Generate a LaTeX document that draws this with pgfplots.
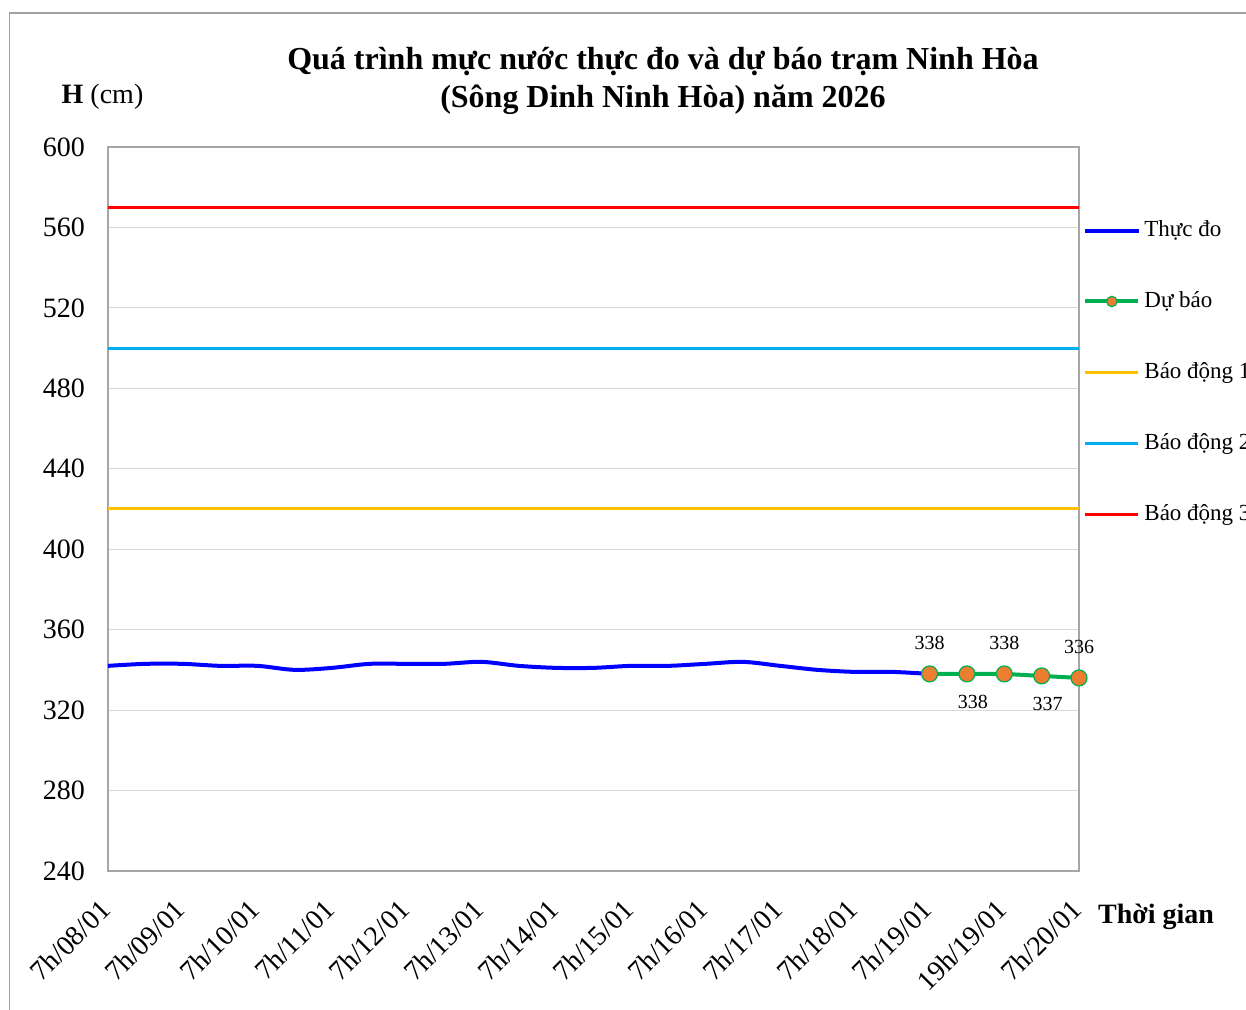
\documentclass[border=0pt]{standalone}
\usepackage{fontspec}
\setmainfont{Liberation Serif}
\usepackage{pgfplots}
\pgfplotsset{compat=1.18}
\definecolor{cBlue}{HTML}{0000FF}
\definecolor{cGreen}{HTML}{00B050}
\definecolor{cOrange}{HTML}{ED7D31}
\definecolor{cYellow}{HTML}{FFC000}
\definecolor{cCyan}{HTML}{00B0F0}
\definecolor{cRed}{HTML}{FF0000}
\definecolor{gridgray}{HTML}{D9D9D9}
\definecolor{axisgray}{HTML}{A6A6A6}
\definecolor{framegray}{HTML}{A0A0A0}
\begin{document}
\begin{tikzpicture}
\path[use as bounding box] (0,0) rectangle (623pt,505pt);
\draw[color=framegray, line width=0.8pt] (4.75pt,0) -- (4.75pt,498.5pt) -- (640pt,498.5pt);
\node[align=center, font=\fontsize{16}{19}\selectfont\bfseries] at (331.5pt,464.5pt)
  {Quá trình mực nước thực đo và dự báo trạm Ninh Hòa\\(Sông Dinh Ninh Hòa) năm 2026};
\node[font=\fontsize{14}{16}\selectfont] at (51.25pt,456.5pt) {\textbf{H} (cm)};
\node[font=\fontsize{14}{16}\selectfont\bfseries] at (578pt,46.5pt) {Thời gian};
\begin{axis}[
  at={(54pt,69.5pt)}, anchor=south west,
  scale only axis, width=485.5pt, height=362pt,
  xmin=0, xmax=13, ymin=240, ymax=600,
  ytick={240,280,...,600},
  xtick={0,...,13},
  xticklabels={7h/08/01,7h/09/01,7h/10/01,7h/11/01,7h/12/01,7h/13/01,7h/14/01,7h/15/01,7h/16/01,7h/17/01,7h/18/01,7h/19/01,19h/19/01,7h/20/01},
  ymajorgrids, major grid style={color=gridgray, line width=0.6pt},
  axis line style={color=axisgray, line width=1pt},
  major tick length=0pt,
  tick label style={font=\fontsize{14}{16}\selectfont},
  /pgf/number format/assume math mode=true,
  yticklabel style={xshift=-8pt},
  xticklabel style={rotate=45, anchor=east, xshift=-9.5pt, yshift=-11.2pt},
  clip=false,
  legend style={at={(1,0.6885)}, anchor=west, xshift=2pt, draw=none, fill=none,
    font=\fontsize{11.5}{13}\selectfont, row sep=22pt, inner sep=0pt,
    nodes={inner sep=2pt}},
  legend cell align=left,
  legend image code/.code={\draw[mark repeat=2,mark phase=2,#1] plot coordinates {(0pt,0pt)(13.25pt,0pt)(26.5pt,0pt)};},
]
\addplot[cBlue, line width=2pt, smooth, no markers] coordinates {
(0,342)(0.5,343)(1,343)(1.5,342)(2,342)(2.5,340)(3,341)(3.5,343)(4,343)(4.5,343)
(5,344)(5.5,342)(6,341)(6.5,341)(7,342)(7.5,342)(8,343)(8.5,344)(9,342)(9.5,340)
(10,339)(10.5,339)(11,338)};
\addlegendentry{Thực đo}
\addplot[cGreen, line width=2pt, mark=*, mark size=4pt,
  mark options={fill=cOrange, draw=cGreen, line width=0.6pt},
  legend image post style={mark size=2.6pt}] coordinates {
(11,338)(11.5,338)(12,338)(12.5,337)(13,336)};
\addlegendentry{Dự báo}
\addplot[cYellow, line width=1.5pt] coordinates {(0,420)(13,420)};
\addlegendentry{Báo động 1}
\addplot[cCyan, line width=1.5pt] coordinates {(0,500)(13,500)};
\addlegendentry{Báo động 2}
\addplot[cRed, line width=1.5pt] coordinates {(0,570)(13,570)};
\addlegendentry{Báo động 3}
\addplot[draw=none, forget plot, nodes near coords, point meta=y,
  every node near coord/.style={anchor=center, yshift=15.5pt, font=\fontsize{10}{12}\selectfont}]
  coordinates {(11,338)(12,338)(13,336)};
\addplot[draw=none, forget plot, nodes near coords, point meta=y,
  every node near coord/.style={anchor=center, yshift=-14pt, xshift=3pt, font=\fontsize{10}{12}\selectfont}]
  coordinates {(11.5,338)(12.5,337)};
\end{axis}
\end{tikzpicture}
\end{document}
